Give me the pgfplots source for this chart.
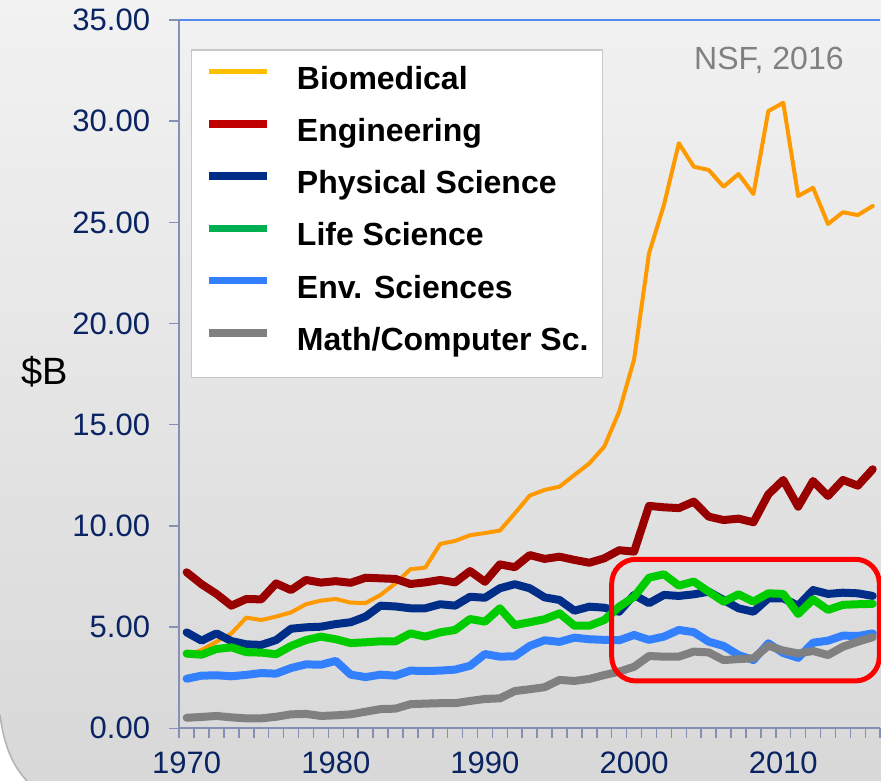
\documentclass[border=0pt]{standalone}
\usepackage{fontspec}
\setmainfont{Liberation Sans}
\usepackage{pgfplots}
\usepackage{pgfplotstable}
\pgfplotsset{compat=1.18}
\definecolor{tickblue}{RGB}{10,36,99}
\definecolor{axisgray}{RGB}{134,144,180}
\definecolor{topblue}{RGB}{80,140,240}
\definecolor{bio}{RGB}{255,153,0}
\definecolor{bioleg}{RGB}{255,192,0}
\definecolor{eng}{RGB}{153,0,0}
\definecolor{engleg}{RGB}{192,0,0}
\definecolor{phys}{RGB}{0,45,135}
\definecolor{life}{RGB}{0,204,0}
\definecolor{lifeleg}{RGB}{0,176,80}
\definecolor{env}{RGB}{51,128,255}
\definecolor{mathc}{RGB}{128,128,128}
\definecolor{bgtop}{RGB}{242,242,242}
\definecolor{bgbot}{RGB}{216,216,216}
\definecolor{legborder}{RGB}{200,200,200}
\pgfplotstableread{
year bio eng phys life env math
1970 3.60 7.71 4.74 3.69 2.45 0.52
1971 3.87 7.12 4.33 3.64 2.60 0.56
1972 4.28 6.64 4.69 3.92 2.62 0.61
1973 4.69 6.06 4.31 4.00 2.57 0.54
1974 5.47 6.39 4.15 3.76 2.64 0.49
1975 5.35 6.37 4.12 3.74 2.73 0.49
1976 5.52 7.16 4.36 3.66 2.70 0.57
1977 5.73 6.83 4.92 4.07 2.98 0.69
1978 6.13 7.33 4.99 4.36 3.16 0.71
1979 6.31 7.20 5.02 4.53 3.14 0.61
1980 6.39 7.27 5.15 4.40 3.33 0.64
1981 6.21 7.19 5.24 4.21 2.65 0.69
1982 6.19 7.44 5.52 4.25 2.53 0.82
1983 6.59 7.41 6.06 4.30 2.65 0.95
1984 7.16 7.38 6.02 4.30 2.60 0.97
1985 7.86 7.13 5.93 4.69 2.85 1.19
1986 7.94 7.21 5.93 4.53 2.83 1.22
1987 9.11 7.33 6.13 4.74 2.85 1.24
1988 9.26 7.21 6.06 4.86 2.90 1.24
1989 9.54 7.77 6.50 5.40 3.09 1.35
1990 9.65 7.24 6.45 5.27 3.67 1.45
1991 9.77 8.10 6.92 5.93 3.54 1.48
1992 10.62 7.96 7.12 5.10 3.56 1.84
1993 11.50 8.56 6.92 5.24 4.07 1.93
1994 11.78 8.37 6.47 5.39 4.35 2.03
1995 11.94 8.48 6.34 5.68 4.27 2.39
1996 12.52 8.32 5.81 5.07 4.48 2.34
1997 13.09 8.18 6.01 5.07 4.40 2.44
1998 13.92 8.40 5.96 5.35 4.37 2.63
1999 15.65 8.80 5.76 6.01 4.35 2.80
2000 18.23 8.73 6.59 6.50 4.61 3.04
2001 23.47 10.99 6.18 7.44 4.37 3.57
2002 25.86 10.92 6.59 7.61 4.53 3.54
2003 28.91 10.88 6.54 7.05 4.86 3.54
2004 27.75 11.20 6.62 7.25 4.75 3.79
2005 27.59 10.46 6.75 6.75 4.28 3.75
2006 26.76 10.29 6.34 6.26 4.07 3.37
2007 27.39 10.36 5.93 6.62 3.62 3.42
2008 26.40 10.18 5.76 6.26 3.37 3.46
2009 30.50 11.56 6.42 6.67 4.20 4.08
2010 30.91 12.27 6.42 6.64 3.72 3.84
2011 26.30 10.95 6.06 5.65 3.48 3.70
2012 26.71 12.22 6.83 6.37 4.23 3.82
2013 24.92 11.48 6.64 5.85 4.33 3.62
2014 25.50 12.27 6.70 6.10 4.58 4.03
2015 25.36 11.99 6.67 6.13 4.56 4.28
2016 25.81 12.80 6.54 6.15 4.69 4.50
}\datatable
\begin{document}
\begin{tikzpicture}
\path[use as bounding box] (0,0) rectangle (881pt,781pt);
\clip (0,0) rectangle (881pt,781pt);
\shade[top color=bgtop, bottom color=bgbot] (0,0) rectangle (881pt,781pt);
\fill[white] (0,0) -- (0,66pt) .. controls (4pt,36pt) and (12pt,16pt) .. (27pt,0) -- cycle;
\draw[gray!60, line width=1.5pt] (0,66pt) .. controls (4pt,36pt) and (12pt,16pt) .. (27pt,0);
\begin{axis}[
  at={(179.2pt,52.7pt)}, anchor=south west,
  scale only axis, width=701pt, height=708.3pt,
  xmin=1969.5, xmax=2016.5, ymin=0, ymax=35,
  clip=false,
  axis lines*=left,
  axis line style={draw=axisgray, line width=2pt},
  tick align=outside,
  major tick length=10pt,
  tick style={draw=axisgray, line width=1.5pt},
  xtick={1969.5,1970.5,...,2016.5},
  xticklabels={,,},
  extra x ticks={1970,1980,1990,2000,2010},
  extra x tick labels={1970,1980,1990,2000,2010},
  extra x tick style={major tick length=0pt},
  ytick={0,5,10,15,20,25,30,35},
  yticklabels={0.00,5.00,10.00,15.00,20.00,25.00,30.00,35.00},
  ticklabel style={font=\fontsize{31}{36}\selectfont, text=tickblue, inner sep=0pt},
  xticklabel style={yshift=-23pt},
  yticklabel style={xshift=-19pt},
  legend cell align=left,
  legend image code/.code={\draw[#1, line cap=butt] (0pt,11.5pt) -- (58pt,11.5pt);},
  legend style={at={(axis description cs:0.0164,0.9586)}, anchor=north west,
    draw=legborder, line width=1.5pt, fill=white,
    inner xsep=14pt, inner ysep=18pt,
    font=\fontsize{32}{38}\selectfont\bfseries,
    row sep=22pt, column sep=26pt,
    nodes={inner sep=0pt, text height=21pt, text depth=9pt}},
  every axis plot/.append style={line join=round, line cap=round},
]
\addplot[bio, line width=4pt, forget plot] table[x=year, y=bio] {\datatable};
\addplot[eng, line width=8pt, forget plot] table[x=year, y=eng] {\datatable};
\addplot[phys, line width=8pt, forget plot] table[x=year, y=phys] {\datatable};
\addplot[life, line width=8pt, forget plot] table[x=year, y=life] {\datatable};
\addplot[env, line width=8pt, forget plot] table[x=year, y=env] {\datatable};
\addplot[mathc, line width=8pt, forget plot] table[x=year, y=math] {\datatable};
\addlegendimage{bioleg, line width=4.5pt}
\addlegendentry{Biomedical}
\addlegendimage{engleg, line width=7.5pt}
\addlegendentry{Engineering}
\addlegendimage{phys, line width=7.5pt}
\addlegendentry{Physical Science}
\addlegendimage{lifeleg, line width=7.5pt}
\addlegendentry{Life Science}
\addlegendimage{env, line width=7.5pt}
\addlegendentry{Env. Sciences}
\addlegendimage{mathc, line width=7.5pt}
\addlegendentry{Math/Computer Sc.}
\draw[topblue, line width=1.5pt] (rel axis cs:0,1) -- (rel axis cs:1,1);
\draw[red, line width=5pt, rounded corners=24pt] (axis cs:1998.5,2.34) rectangle (axis cs:2016.44,8.35);
\node[anchor=base, text=mathc, font=\fontsize{32}{38}\selectfont] at (axis cs:2009.04,32.56) {NSF, 2016};
\end{axis}
\node[font=\fontsize{38}{44}\selectfont] at (45pt,409pt) {\$B};
\end{tikzpicture}
\end{document}
